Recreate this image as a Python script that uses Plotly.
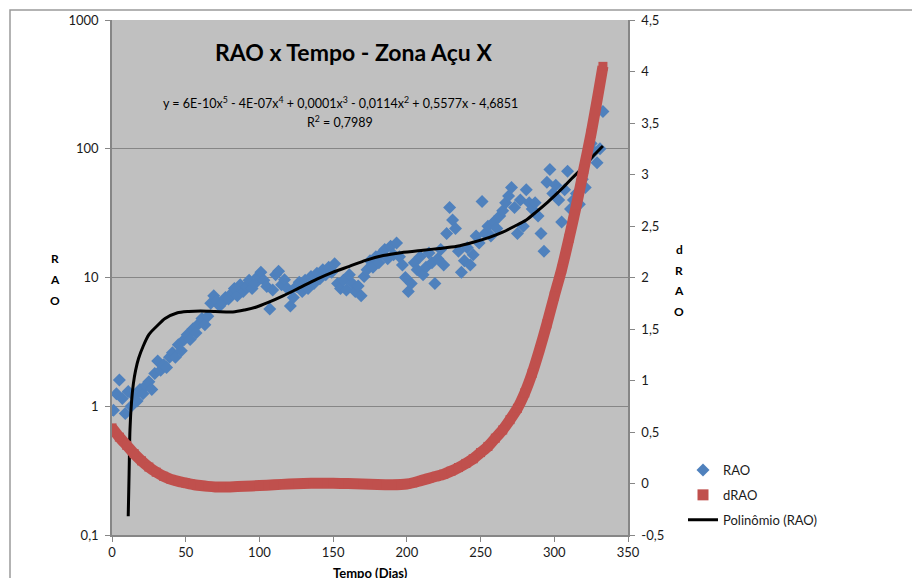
import plotly.graph_objects as go

# ---------------- data ----------------
rao_x = list(range(1, 334, 2))
rao_y = [
    0.93, 1.25, 1.6, 1.15, 0.88, 1.3, 1.0, 1.2, 1.1, 1.35,
    1.25, 1.45, 1.55, 1.35, 1.8, 2.25, 1.9, 2.1, 2.0, 2.4,
    2.6, 2.4, 3.0, 2.7, 3.3, 3.6, 3.3, 4.0, 3.7, 4.4,
    4.8, 4.3, 5.0, 6.3, 7.2, 6.6, 6.0, 6.4, 7.0, 6.8,
    7.5, 8.2, 7.2, 8.8, 7.8, 8.5, 9.5, 8.2, 9.0, 10.2,
    11.0, 9.5, 8.5, 5.7, 8.0, 10.5, 11.2, 8.8, 9.6, 8.2,
    6.0, 7.0, 8.5, 9.2, 7.8, 9.5, 8.2, 10.2, 9.0, 10.8,
    9.8, 11.5, 10.5, 12.0, 11.0, 12.8, 9.0, 8.2, 9.5, 8.0,
    10.5, 9.0, 7.8, 8.6, 7.2, 10.2, 11.5, 13.5, 12.0, 14.5,
    13.0, 15.5, 16.5, 14.0, 17.5, 15.0, 18.5, 14.5, 12.5, 10.0,
    7.8, 9.0, 13.0, 11.5, 14.5, 10.5, 12.0, 15.5, 13.0, 9.0,
    14.0, 16.5, 12.5, 22.0, 35.0, 28.0, 24.0, 16.0, 11.0, 13.5,
    17.0, 12.5, 15.0, 21.0, 18.5, 39.0, 22.0, 25.0, 21.0, 27.0,
    24.0, 30.0, 33.0, 38.0, 43.0, 50.0, 35.0, 22.0, 40.0, 25.0,
    48.0, 38.0, 34.0, 38.0, 30.0, 22.0, 16.0, 55.0, 69.0, 45.0,
    52.0, 40.0, 27.0, 48.0, 67.0, 34.0, 40.0, 45.0, 37.0, 58.0,
    50.0, 85.0, 110.0, 95.0, 78.0, 100.0, 195.0,
]

drao_x = [0, 5, 10, 15, 20, 25, 30, 35, 40, 45, 50, 55, 60, 65, 70, 75, 80, 90,
          100, 110, 120, 130, 140, 150, 160, 170, 180, 190, 200, 205, 210, 215,
          220, 225, 230, 235, 240, 245, 250, 255, 260, 265, 270, 275, 280, 285,
          290, 295, 300, 305, 310, 315, 320, 325, 330, 333]
drao_y = [0.54, 0.45, 0.37, 0.29, 0.22, 0.16, 0.11, 0.07, 0.04, 0.02, 0.005,
          -0.01, -0.02, -0.028, -0.033, -0.035, -0.033, -0.027, -0.02, -0.012,
          -0.005, 0.0, 0.003, 0.002, 0.0, -0.005, -0.01, -0.012, -0.005, 0.01,
          0.03, 0.05, 0.07, 0.09, 0.12, 0.155, 0.195, 0.24, 0.3, 0.36, 0.44,
          0.52, 0.62, 0.73, 0.88, 1.07, 1.3, 1.55, 1.82, 2.08, 2.38, 2.7, 3.05,
          3.4, 3.8, 4.05]

trend_x = [11, 11.6, 12.2, 13.3, 14.5, 16, 18, 21, 25, 30.5, 36, 44, 52, 60, 70,
           82, 90, 98, 106, 116, 127, 139, 150, 161, 172, 184, 196, 211, 222,
           234, 245, 256, 265, 273, 281, 288, 295, 301, 306, 312, 318, 322, 326,
           330, 333]
trend_y = [0.14, 0.3, 0.66, 1.1, 1.5, 1.9, 2.35, 2.9, 3.6, 4.2, 4.8, 5.3, 5.45,
           5.5, 5.45, 5.4, 5.6, 5.9, 6.4, 7.2, 8.3, 9.7, 11.0, 12.2, 13.6, 14.8,
           15.6, 16.3, 16.8, 17.5, 18.8, 20.5, 22.5, 25.0, 28.0, 32.5, 38.0,
           44.0, 50.0, 59.0, 69.0, 77.0, 87.0, 97.0, 105.0]

x_ticks = [0, 50, 100, 150, 200, 250, 300, 350]
y_tickvals = [0.1, 1, 10, 100, 1000]
y_ticktext = ["0,1", "1", "10", "100", "1000"]
y2_tickvals = [-0.5, 0, 0.5, 1, 1.5, 2, 2.5, 3, 3.5, 4, 4.5]
y2_ticktext = ["-0,5", "0", "0,5", "1", "1,5", "2", "2,5", "3", "3,5", "4", "4,5"]

title_text = "RAO x Tempo - Zona Açu X"
eq_text = ("y = 6E-10x<sup>5</sup> - 4E-07x<sup>4</sup> + 0,0001x<sup>3</sup> - "
           "0,0114x<sup>2</sup> + 0,5577x - 4,6851")
r2_text = "R<sup>2</sup> = 0,7989"

FONT = "Lato"
BLUE = "#4f81bd"
RED = "#c0504d"
AXC = "#868686"

fig = go.Figure()

# dRAO (secondary axis) - thick band of squares
fig.add_trace(go.Scatter(
    x=drao_x, y=drao_y, yaxis="y2", mode="lines+markers",
    line=dict(color=RED, width=11, shape="spline", smoothing=0.6),
    marker=dict(symbol="square", size=9, color=RED),
    showlegend=False, hoverinfo="skip", name="dRAO"))

# RAO scatter
fig.add_trace(go.Scatter(
    x=rao_x, y=rao_y, mode="markers", name="RAO", legendgroup="a",
    marker=dict(symbol="diamond", size=10, color=BLUE, line=dict(width=0))))

# dRAO legend entry
fig.add_trace(go.Scatter(
    x=[None], y=[None], mode="markers", name="dRAO", legendgroup="b",
    marker=dict(symbol="square", size=11, color=RED)))

# Polynomial trend
fig.add_trace(go.Scatter(
    x=trend_x, y=trend_y, mode="lines", name="Polinômio (RAO)",
    legendgroup="c",
    line=dict(color="black", width=3, shape="spline", smoothing=0.8)))

W, H = 912, 578
L, R, T, B = 112, 284, 20, 43
pw, ph = W - L - R, H - T - B


def px(xp):
    return (xp - L) / pw


def py(yp):
    return (H - B - yp) / ph


fig.update_layout(
    width=W, height=H,
    margin=dict(l=L, r=R, t=T, b=B, pad=0),
    paper_bgcolor="white", plot_bgcolor="#c0c0c0",
    font=dict(family=FONT, size=13, color="#1a1a1a"),
    showlegend=True,
    legend=dict(x=px(683), y=py(455), xanchor="left", yanchor="top",
                bgcolor="rgba(0,0,0,0)", font=dict(size=13, family=FONT),
                traceorder="grouped", tracegroupgap=5),
    xaxis=dict(range=[0, 350], tickvals=x_ticks, showgrid=False,
               showline=True, linecolor=AXC, linewidth=1.5,
               ticks="outside", ticklen=5, tickcolor=AXC, zeroline=False,
               tickfont=dict(size=13)),
    yaxis=dict(type="log", range=[-1, 3], tickvals=y_tickvals,
               ticktext=y_ticktext, showgrid=True, gridcolor=AXC,
               gridwidth=1.2, showline=True, linecolor=AXC, linewidth=1.5,
               ticks="outside", ticklen=5, tickcolor=AXC, zeroline=False,
               ticklabelstandoff=4, tickfont=dict(size=13)),
    yaxis2=dict(overlaying="y", side="right", range=[-0.5, 4.5],
                tickvals=y2_tickvals, ticktext=y2_ticktext, showgrid=False,
                showline=True, linecolor=AXC, linewidth=1.5, ticks="outside",
                ticklen=5, tickcolor=AXC, zeroline=False,
                ticklabelstandoff=4, tickfont=dict(size=13)),
)


def note(text, xp, yp, size, bold=False):
    return dict(text=("<b>%s</b>" % text) if bold else text,
                x=px(xp), y=py(yp), xref="paper", yref="paper",
                xanchor="center", yanchor="middle", showarrow=False,
                font=dict(size=size, family=FONT, color="black"))


ann = [note(title_text, 353, 52, 23, True),
       note(eq_text, 340, 103, 12.5),
       note(r2_text, 340, 121, 12.5)]
for ch, yp in zip("RAO", [258, 279, 300]):
    ann.append(note(ch, 55, yp, 12, True))
for ch, yp in zip("dRAO", [249, 270, 290, 311]):
    ann.append(note(ch, 679, yp, 12, True))
ann.append(note("Tempo (Dias)", 370, 573, 13, True))
fig.update_layout(annotations=ann)

fig.add_shape(type="rect", xref="paper", yref="paper",
              x0=px(10), x1=px(930), y0=py(600), y1=py(10),
              line=dict(color="#9a9a9a", width=1.5), fillcolor="rgba(0,0,0,0)",
              layer="below")

fig.write_html("out.html", config={"displayModeBar": False},
               post_script="document.body.style.margin='0px';"
                           "document.body.style.padding='0px';")
